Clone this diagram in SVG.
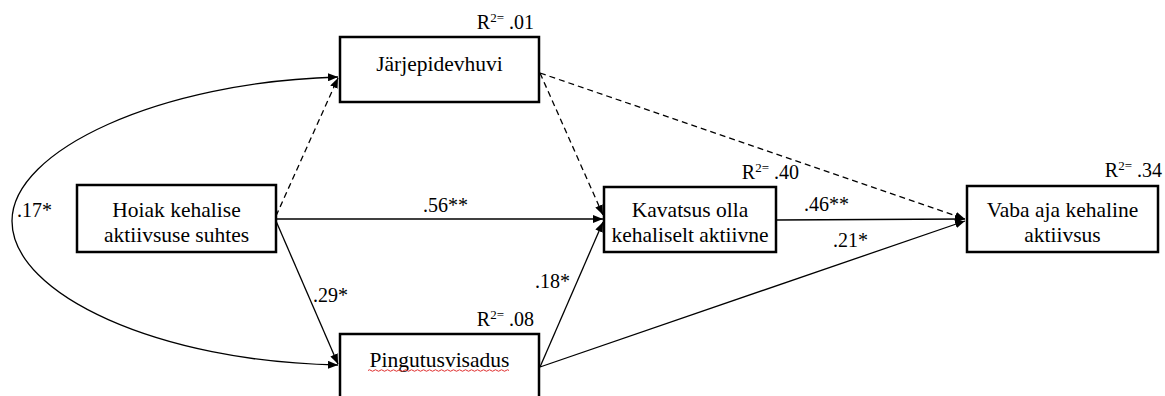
<svg xmlns="http://www.w3.org/2000/svg" width="1165" height="396" viewBox="0 0 1165 396" font-family="Liberation Serif, DejaVu Serif, serif">
  <style>
    text { font-family: "Liberation Serif", "DejaVu Serif", serif; fill: #000; }
    .node rect { fill: #fff; stroke: #000; stroke-width: 2.5; }
    .lbl { font-size: 21.5px; text-anchor: middle; }
    .r2 { font-size: 20px; text-anchor: end; }
    .coef { font-size: 20px; }
    .edge { fill: none; stroke: #000; stroke-width: 1.3; marker-end: url(#arr); }
    .dash { stroke-dasharray: 6 4; }
  </style>
  <defs>
    <marker id="arr" viewBox="0 0 10 8" refX="10" refY="4" markerWidth="10" markerHeight="8" orient="auto-start-reverse" markerUnits="userSpaceOnUse">
      <path d="M0,0 L10,4 L0,8 z" fill="#000"/>
    </marker>
  </defs>

  <rect width="1165" height="396" fill="#fff"/>

  <!-- paths between constructs -->
  <g id="connectors">
    <path class="edge" marker-start="url(#arr)" d="M338 77 C160 82 12 150 12 221 C12 295 160 362 338 365"/>
    <path class="edge" d="M276 219 L603 219"/>
    <path class="edge dash" d="M276 216 L338 78"/>
    <path class="edge" d="M276 221 L338 364"/>
    <path class="edge dash" d="M540 73 L603 215"/>
    <path class="edge dash" d="M540 73 L965 219"/>
    <path class="edge" d="M776 220 L965 219"/>
    <path class="edge" d="M540 367 L603 222"/>
    <path class="edge" d="M540 367 L965 221"/>
  </g>

  <!-- path coefficients -->
  <g id="coefficients" class="coef">
    <text x="17" y="217">.17*</text>
    <text x="423" y="212">.56**</text>
    <text x="313" y="302">.29*</text>
    <text x="535" y="288">.18*</text>
    <text x="804" y="211">.46**</text>
    <text x="833" y="247">.21*</text>
  </g>

  <g id="hoiak" class="node">
    <rect x="77" y="185" width="199" height="67"/>
    <text class="lbl" x="176.5" y="217">Hoiak kehalise</text>
    <text class="lbl" x="176.5" y="242">aktiivsuse suhtes</text>
  </g>

  <g id="jarjepidevhuvi" class="node">
    <rect x="340" y="37" width="199" height="65"/>
    <text class="lbl" x="439.5" y="71">Järjepidevhuvi</text>
    <text class="r2" x="534" y="29">R<tspan font-size="13" dy="-7">2=</tspan><tspan dy="7"> .01</tspan></text>
  </g>

  <g id="kavatsus" class="node">
    <rect x="604" y="187" width="172" height="65"/>
    <text class="lbl" x="690" y="217">Kavatsus olla</text>
    <text class="lbl" x="690" y="242">kehaliselt aktiivne</text>
    <text class="r2" x="799" y="179">R<tspan font-size="13" dy="-7">2=</tspan><tspan dy="7"> .40</tspan></text>
  </g>

  <g id="vaba-aja" class="node">
    <rect x="967" y="186" width="191" height="66"/>
    <text class="lbl" x="1062.5" y="217">Vaba aja kehaline</text>
    <text class="lbl" x="1062.5" y="242">aktiivsus</text>
    <text class="r2" x="1162" y="177">R<tspan font-size="13" dy="-7">2=</tspan><tspan dy="7"> .34</tspan></text>
  </g>

  <g id="pingutusvisadus" class="node">
    <rect x="340" y="334" width="199" height="80"/>
    <text class="lbl" x="439.5" y="367">Pingutusvisadus</text>
    <!-- spell-check squiggle under the label -->
    <path d="M368 370.5 q1.5 -1.5 3 0 t3 0 t3 0 t3 0 t3 0 t3 0 t3 0 t3 0 t3 0 t3 0 t3 0 t3 0 t3 0 t3 0 t3 0 t3 0 t3 0 t3 0 t3 0 t3 0 t3 0 t3 0 t3 0 t3 0 t3 0 t3 0 t3 0 t3 0 t3 0 t3 0 t3 0 t3 0 t3 0 t3 0 t3 0 t3 0 t3 0 t3 0 t3 0 t3 0 t3 0 t3 0 t3 0 t3 0 t3 0 t3 0 t3 0" fill="none" stroke="#e03030" stroke-width="1"/>
    <text class="r2" x="534" y="326">R<tspan font-size="13" dy="-7">2=</tspan><tspan dy="7"> .08</tspan></text>
  </g>
</svg>
